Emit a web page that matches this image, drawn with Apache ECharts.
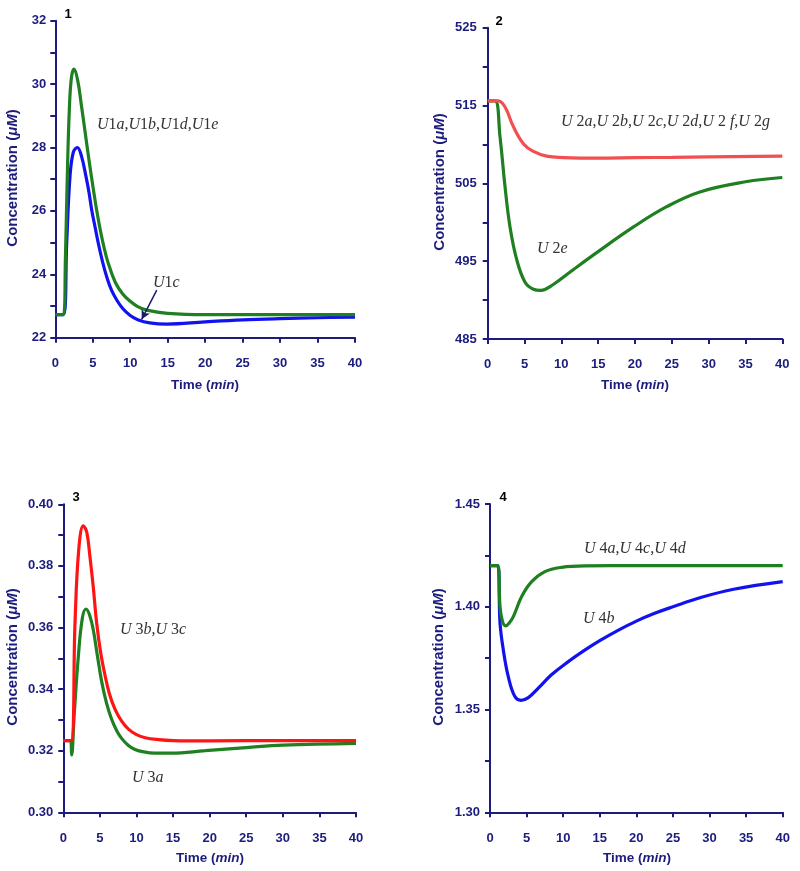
<!DOCTYPE html>
<html>
<head>
<meta charset="utf-8">
<script src="https://cdn.jsdelivr.net/npm/echarts@6/dist/echarts.min.js"></script>
<style>html,body{margin:0;padding:0;background:#fff}#c{width:800px;height:871px}</style>
</head>
<body>
<div id="c"></div>
<script>
// ---- data (time in min, concentration in µM) ----
const xTicks = [0, 5, 10, 15, 20, 25, 30, 35, 40];

const p1_U1a = [[0,22.73],[1.1,22.73],[1.35,24.5],[1.6,27.08],[1.87,29.18],[2.15,30.2],[2.5,30.47],[3.0,30.1],[3.5,29.3],[4.0,28.45],[4.5,27.6],[5.0,26.8],[5.5,26.05],[6.0,25.4],[6.5,24.85],[7.0,24.4],[8.0,23.75],[9.0,23.38],[10,23.15],[11,22.98],[12.2,22.87],[15,22.77],[20,22.73],[30,22.73],[40,22.73]];
const p1_U1c = [[0,22.73],[1.1,22.73],[1.52,24.98],[1.96,27.08],[2.4,27.85],[2.94,28.0],[3.5,27.72],[4.1,27.08],[4.5,26.58],[4.86,26.03],[5.3,25.5],[5.74,24.98],[6.3,24.4],[6.86,23.92],[7.5,23.5],[8.2,23.19],[9.0,22.92],[10,22.7],[11,22.57],[12.6,22.47],[14.9,22.43],[20,22.5],[25,22.56],[30,22.6],[35,22.63],[40,22.65]];
const p1_arrow = [[13.54,23.5],[11.53,22.58]];

const p2_U2a = [[0,515.6],[1.45,515.6],[2.0,515.3],[2.58,514.4],[3.48,512.3],[4.84,510.1],[6.2,509.1],[8.0,508.5],[10.3,508.3],[12.5,508.25],[15,508.25],[20,508.3],[25,508.34],[30,508.4],[40,508.5]];
const p2_U2e = [[0,515.6],[1.0,515.6],[1.67,511.0],[2.35,504.6],[3.03,499.4],[3.94,495.2],[5.07,492.3],[6.2,491.4],[7.2,491.25],[8.9,492.0],[11.6,493.9],[14.8,496.1],[19.8,499.4],[24.3,502.0],[28.8,503.9],[35,505.2],[40,505.75]];

const p3_U3b = [[0,0.3233],[1.05,0.3233],[1.6,0.3614],[2.1,0.385],[2.73,0.393],[3.2,0.391],[3.64,0.383],[4.1,0.373],[4.56,0.3614],[5.1,0.352],[5.7,0.3445],[6.3,0.3385],[7.06,0.3335],[8.0,0.3295],[8.9,0.327],[10,0.3252],[11.2,0.3242],[13,0.3236],[15,0.3233],[20,0.3232],[30,0.3233],[40,0.3233]];
const p3_U3a = [[0,0.3233],[1.0,0.3233],[1.14,0.3186],[1.5,0.332],[2.05,0.3505],[2.6,0.363],[3.1,0.366],[3.6,0.364],[4.1,0.3592],[4.65,0.351],[5.24,0.3425],[5.9,0.3355],[6.6,0.3302],[7.3,0.3265],[7.97,0.324],[8.9,0.3217],[9.8,0.3204],[11,0.3196],[12.5,0.3192],[14.8,0.3192],[19.4,0.32],[25,0.321],[30,0.3218],[40,0.3224]];

const p4_U4a = [[0,1.42],[1.05,1.42],[1.37,1.4001],[1.7,1.393],[2.14,1.3907],[2.6,1.392],[3.19,1.3952],[4.33,1.405],[5.7,1.4122],[7.5,1.4171],[9.8,1.4192],[13,1.4199],[20,1.42],[40,1.42]];
const p4_U4b = [[0,1.42],[1.05,1.42],[1.37,1.392],[1.82,1.379],[2.5,1.366],[3.4,1.3563],[4.24,1.3545],[5.24,1.3558],[6.6,1.3604],[8.4,1.3669],[10.7,1.3733],[13,1.379],[15,1.3835],[17.5,1.3885],[20,1.393],[22.5,1.3968],[25,1.4],[28.7,1.4044],[33.3,1.4085],[40,1.4122]];

const yRanges = [[22,32,2],[485,525,10],[0.30,0.40,0.02],[1.30,1.45,0.05]];
const yDecimals = [0,0,2,2];
const panelNames = ['1','2','3','4'];
const annotations = ['U1a,U1b,U1d,U1e','U1c','U 2a,U 2b,U 2c,U 2d,U 2 f,U 2g','U 2e','U 3b,U 3c','U 3a','U 4a,U 4c,U 4d','U 4b'];
const yTitle = 'Concentration (';
const xTitle = 'Time (';

// ---- styling / layout ----
const NAVY = '#1c1c7e';
const GREEN = '#1e8020';
const BLUE = '#1212ee';
const RED2 = '#f25050';
const RED3 = '#ff1414';
const grids = [
  {left:55.3, top:20.7, width:299.7, height:317},
  {left:487.7, top:27.7, width:294.6, height:311.3},
  {left:63.3, top:504.3, width:292.7, height:308},
  {left:490, top:504, width:292.7, height:308.3}
];
const xLabelMargin = [19,19,20,20];
const yLabelMargin = [9,11,10,10];

const xAxes = grids.map((g,i)=>({
  type:'value', gridIndex:i, min:0, max:40, interval:5,
  axisLine:{show:true, onZero:false, lineStyle:{color:NAVY, width:2}},
  axisTick:{show:true, length:5, lineStyle:{color:NAVY, width:2}},
  splitLine:{show:false},
  axisLabel:{color:NAVY, fontWeight:'bold', fontSize:13, fontFamily:'Liberation Sans, Arial, sans-serif', margin:xLabelMargin[i],
    customValues: xTicks}
}));
const yAxes = yRanges.map((r,i)=>({
  type:'value', gridIndex:i, min:r[0], max:r[1], interval:r[2],
  axisLine:{show:true, onZero:false, lineStyle:{color:NAVY, width:2}},
  axisTick:{show:true, length:5, lineStyle:{color:NAVY, width:2}},
  minorTick:{show:true, splitNumber:2, length:5, lineStyle:{color:NAVY, width:2}},
  splitLine:{show:false},
  axisLabel:{color:NAVY, fontWeight:'bold', fontSize:13, fontFamily:'Liberation Sans, Arial, sans-serif', margin:yLabelMargin[i],
    formatter: v => Number(v).toFixed(yDecimals[i])}
}));

function line(data, color, idx, extra){
  return Object.assign({type:'line', xAxisIndex:idx, yAxisIndex:idx, data:data, showSymbol:false, symbol:'none',
    smooth:0.4, lineStyle:{color:color, width:3.2}, itemStyle:{color:color}, z:2}, extra||{});
}

const series = [
  line(p1_U1c, BLUE, 0, {markLine:{silent:true, symbol:['none','arrow'], symbolSize:[7,9],
    lineStyle:{color:'#1a1a6a', width:1.5, type:'solid'}, label:{show:false},
    data:[[{coord:p1_arrow[0]},{coord:p1_arrow[1]}]]}}),
  line(p1_U1a, GREEN, 0),
  line(p2_U2e, GREEN, 1),
  line(p2_U2a, RED2, 1),
  line(p3_U3a, GREEN, 2),
  line(p3_U3b, RED3, 2),
  line(p4_U4b, BLUE, 3),
  line(p4_U4a, GREEN, 3)
];

function mathRich(s){
  return s.replace(/([A-Za-z]+|\d+|[^A-Za-z\d]+)/g, m => /[A-Za-z]/.test(m) ? '{i|'+m+'}' : '{n|'+m+'}');
}
const mathStyles = {
  i:{fontFamily:'Liberation Serif, Times New Roman, serif', fontStyle:'italic', fontSize:16, fill:'#333', color:'#333'},
  n:{fontFamily:'Liberation Serif, Times New Roman, serif', fontSize:16, fill:'#333', color:'#333'}
};
const annPos = [[97,125],[153,283],[561,121.7],[537,248.3],[120,630],[132,777.7],[584,548.3],[583,618.3]];
const graphics = [];
annotations.forEach((t,k)=>{
  graphics.push({type:'text', x:annPos[k][0], y:annPos[k][1], z:10,
    style:{text:mathRich(t), rich:mathStyles, align:'left', textAlign:'left', verticalAlign:'middle', textVerticalAlign:'middle'}});
});
const numPos = [[68,14],[499,21],[76,497],[503,497]];
panelNames.forEach((t,k)=>{
  graphics.push({type:'text', x:numPos[k][0], y:numPos[k][1], z:10,
    style:{text:t, font:'bold 13px Liberation Sans, Arial, sans-serif', fill:'#000', align:'center', textAlign:'center', verticalAlign:'middle', textVerticalAlign:'middle'}});
});
const titleRich = {
  n:{fontFamily:'Liberation Sans, Arial, sans-serif', fontWeight:'bold', fontSize:15, fill:NAVY, color:NAVY},
  i:{fontFamily:'Liberation Sans, Arial, sans-serif', fontWeight:'bold', fontStyle:'italic', fontSize:15, fill:NAVY, color:NAVY}
};
const xTitleRich = {
  n:{fontFamily:'Liberation Sans, Arial, sans-serif', fontWeight:'bold', fontSize:13.5, fill:NAVY, color:NAVY},
  i:{fontFamily:'Liberation Sans, Arial, sans-serif', fontWeight:'bold', fontStyle:'italic', fontSize:13.5, fill:NAVY, color:NAVY}
};
const yTitlePos = [[13,178],[439.5,182],[12.7,657],[438.5,657]];
const xTitlePos = [[205,385],[635,385],[210,858],[637,858]];
for(let k=0;k<4;k++){
  graphics.push({type:'text', x:yTitlePos[k][0], y:yTitlePos[k][1], rotation:Math.PI/2, z:10,
    style:{text:'{n|'+yTitle+'}{i|μM}{n|)}', rich:titleRich, align:'center', textAlign:'center', verticalAlign:'middle', textVerticalAlign:'middle'}});
  graphics.push({type:'text', x:xTitlePos[k][0], y:xTitlePos[k][1], z:10,
    style:{text:'{n|'+xTitle+'}{i|min}{n|)}', rich:xTitleRich, align:'center', textAlign:'center', verticalAlign:'middle', textVerticalAlign:'middle'}});
}

const chart = echarts.init(document.getElementById('c'), null, {renderer:'canvas'});
chart.setOption({
  animation:false,
  backgroundColor:'#fff',
  grid: grids,
  xAxis: xAxes,
  yAxis: yAxes,
  series: series,
  graphic: graphics
});
</script>
</body>
</html>
